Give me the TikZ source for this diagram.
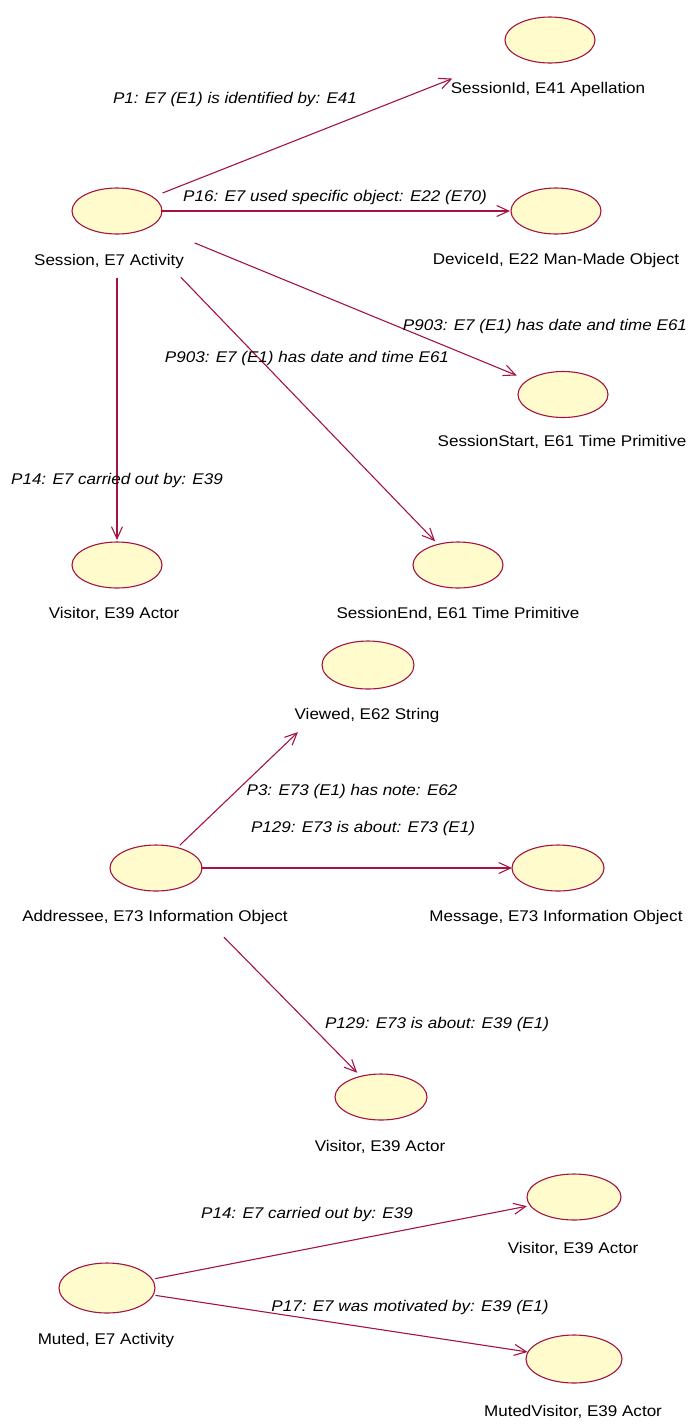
\documentclass[tikz,border=0pt]{standalone}
\usepackage{fontspec}
\setmainfont{Liberation Sans}[FakeStretch=1.1]
\usetikzlibrary{shapes.geometric,arrows.meta}

\definecolor{edgered}{RGB}{165,20,65}
\definecolor{usecase}{RGB}{255,251,204}

\tikzset{
  uc/.style={ellipse, draw=edgered, fill=usecase, line width=1.1pt,
             minimum width=90pt, minimum height=46pt, inner sep=0pt},
  uctitle/.style={anchor=base, inner sep=0pt, text=black,
               font=\fontsize{15.5}{18}\selectfont},
  rel/.style={uctitle, font=\fontsize{15.5}{18}\selectfont\itshape},
  conn/.style={draw=edgered, line width=1.1pt,
               -{Straight Barb[length=12pt,width=11pt,line width=1.1pt]}}
}

\begin{document}
\begin{tikzpicture}[x=1pt,y=-1pt]
\useasboundingbox (0,0) rectangle (689,1428);

% --- Session activity ---
\node[uc] (sess)   at (117,211) {};
\node[uc] (sid)    at (550,40) {};
\node[uc] (dev)    at (556,211) {};
\node[uc] (sstart) at (563,394.5) {};
\node[uc] (send)   at (458,565) {};
\node[uc] (vis1)   at (117,565) {};

\node[uctitle] (sessT)   at (109,265) {Session, E7 Activity};
\node[uctitle] (sidT)    at (548,93)  {SessionId, E41 Apellation};
\node[uctitle] (devT)    at (556,264) {DeviceId, E22 Man-Made Object};
\node[uctitle] (sstartT) at (562,446) {SessionStart, E61 Time Primitive};
\node[uctitle] (sendT)   at (458,618) {SessionEnd, E61 Time Primitive};
\node[uctitle] (vis1T)   at (114,618) {Visitor, E39 Actor};

\draw[conn, shorten <=49pt, shorten >=105pt] (sess.center) -- (sid.center);
\draw[conn, shorten <=44pt, shorten >=46pt]  (sess.center) -- (dev.center);
\draw[conn, shorten <=84pt, shorten >=50pt]  (sess.center) -- (sstart.center);
\draw[conn, shorten <=92pt, shorten >=33pt]  (sess.center) -- (send.center);
\draw[conn, shorten <=67pt, shorten >=25pt]  (sess.center) -- (vis1.center);

\node[rel] (p1)    at (235,103) {P1: E7 (E1) is identified by: E41};
\node[rel] (p16)   at (335,201) {P16: E7 used specific object: E22 (E70)};
\node[rel] (p903a) at (545,330) {P903: E7 (E1) has date and time E61};
\node[rel] (p903b) at (307,362) {P903: E7 (E1) has date and time E61};
\node[rel] (p14a)  at (117,484) {P14: E7 carried out by: E39};

% --- Addressee information object ---
\node[uc, minimum width=92pt, minimum height=48pt] (viewed) at (368,665) {};
\node[uc, minimum width=92pt] (addr) at (156,868) {};
\node[uc, minimum width=92pt] (msg)  at (558,868) {};
\node[uc, minimum width=92pt] (vis2) at (381,1097) {};

\node[uctitle] (viewedT) at (367,719)  {Viewed, E62 String};
\node[uctitle] (addrT)   at (155,921)  {Addressee, E73 Information Object};
\node[uctitle] (msgT)    at (556,921)  {Message, E73 Information Object};
\node[uctitle] (vis2T)   at (380,1151) {Visitor, E39 Actor};

\draw[conn, shorten <=33pt, shorten >=97pt] (addr.center) -- (viewed.center);
\draw[conn, shorten <=45pt, shorten >=46pt] (addr.center) -- (msg.center);
\draw[conn, shorten <=97pt, shorten >=34pt] (addr.center) -- (vis2.center);

\node[rel] (p3)    at (352,795)  {P3: E73 (E1) has note: E62};
\node[rel] (p129a) at (363,832)  {P129: E73 is about: E73 (E1)};
\node[rel] (p129b) at (437,1028) {P129: E73 is about: E39 (E1)};

% --- Muted activity ---
\node[uc, minimum width=96pt, minimum height=50pt] (muted) at (107,1288) {};
\node[uc, minimum width=94pt] (vis3) at (574,1197) {};
\node[uc, minimum width=96pt, minimum height=48pt] (mvis) at (574,1359) {};

\node[uctitle] (mutedT) at (106,1344) {Muted, E7 Activity};
\node[uctitle] (vis3T)  at (573,1253) {Visitor, E39 Actor};
\node[uctitle] (mvisT)  at (573,1416) {MutedVisitor, E39 Actor};

\draw[conn, shorten <=49pt, shorten >=48pt] (muted.center) -- (vis3.center);
\draw[conn, shorten <=49pt, shorten >=47pt] (muted.center) -- (mvis.center);

\node[rel] (p14b) at (307,1218) {P14: E7 carried out by: E39};
\node[rel] (p17)  at (410,1311) {P17: E7 was motivated by: E39 (E1)};
\end{tikzpicture}
\end{document}
